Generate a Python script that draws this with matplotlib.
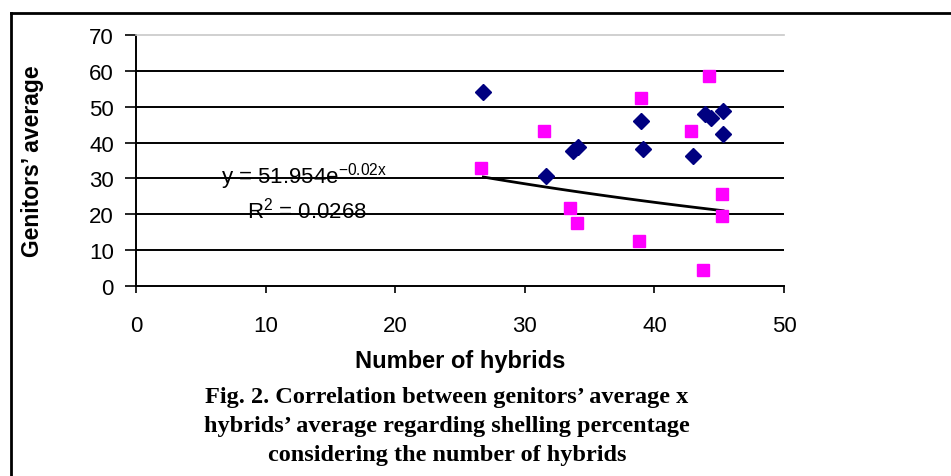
import numpy as np
import matplotlib
matplotlib.use("Agg")
import matplotlib.pyplot as plt
from matplotlib.lines import Line2D

plt.rcParams["mathtext.default"] = "regular"
plt.rcParams["mathtext.fontset"] = "custom"
plt.rcParams["mathtext.rm"] = "Liberation Sans"

# genitors' average (navy diamonds)
gen_x = [26.8, 31.6, 33.7, 34.1, 39.0, 39.1, 42.95, 43.9, 44.4, 45.3, 45.3]
gen_y = [54.0, 30.8, 37.6, 38.7, 45.9, 38.3, 36.3, 48.0, 46.8, 48.9, 42.3]

# hybrids' average (magenta squares)
hyb_x = [26.6, 31.5, 33.5, 34.0, 39.0, 38.8, 42.8, 44.2, 43.75, 45.2, 45.2]
hyb_y = [32.8, 43.3, 21.7, 17.7, 52.4, 12.6, 43.3, 58.5, 4.5, 25.7, 19.6]

# exponential trend line y = a * exp(b x)
trend_a = 51.954
trend_b = -0.02
trend_r2 = 0.0268
trend_range = (26.8, 45.3)

x_ticks = [0, 10, 20, 30, 40, 50]
y_ticks = [0, 10, 20, 30, 40, 50, 60, 70]

fig = plt.figure(figsize=(9.51, 4.77), dpi=100)
ax = fig.add_axes([0.143, 0.3983, 0.6814, 0.5262])

ax.set_xlim(0, 50)
ax.set_ylim(0, 70)
ax.set_xticks(x_ticks)
ax.set_yticks(y_ticks)

for yv in y_ticks[1:-1]:
    ax.axhline(yv, color="black", lw=1.4, zorder=1)

ax.plot(gen_x, gen_y, "D", color="#000080", markersize=8.5, ls="none", zorder=3)
ax.plot(hyb_x, hyb_y, "s", color="#FF00FF", markersize=9, ls="none", zorder=3)

tx = np.linspace(trend_range[0], trend_range[1], 50)
ax.plot(tx, trend_a * np.exp(trend_b * tx), color="black", lw=2, zorder=2)

ax.text(13.0, 29.0, "y = %.3fe$^{%.2fx}$" % (trend_a, trend_b), fontsize=16,
        family="Liberation Sans", ha="center", va="baseline", zorder=4)
ax.text(13.2, 19.0, "R$^{2}$ = %.4f" % trend_r2, fontsize=16,
        family="Liberation Sans", ha="center", va="baseline", zorder=4)

ax.spines["right"].set_visible(False)
ax.spines["top"].set_color("#c8c8c8")
ax.spines["top"].set_linewidth(1.2)
ax.spines["left"].set_linewidth(1.4)
ax.spines["bottom"].set_linewidth(1.4)

ax.tick_params(axis="y", direction="out", length=8, width=1.2, labelsize=16, pad=8)
ax.tick_params(axis="x", direction="out", length=5, width=1.2, labelsize=16, pad=16)
for lab in ax.get_xticklabels() + ax.get_yticklabels():
    lab.set_family("Liberation Sans")

ax.set_xlabel("Number of hybrids", fontsize=17, fontweight="bold",
              family="Liberation Sans", labelpad=9)
ax.set_ylabel("Genitors\u2019 average", fontsize=16.5, fontweight="bold",
              family="Liberation Sans")
ax.yaxis.set_label_coords(-0.142, 0.5)

fig.text(0.47, 0.106, "Fig. 2. Correlation between genitors\u2019 average x\n"
         "hybrids\u2019 average regarding shelling percentage\n"
         "considering the number of hybrids",
         ha="center", va="center", fontsize=17.5, fontweight="bold",
         family="Liberation Serif", linespacing=1.5)

# outer frame (top and left edges)
fig.add_artist(Line2D([10.5 / 951, 1], [1 - 14 / 477, 1 - 14 / 477],
                      transform=fig.transFigure, color="black", lw=2))
fig.add_artist(Line2D([10.5 / 951, 10.5 / 951], [0, 1 - 14 / 477],
                      transform=fig.transFigure, color="black", lw=2))

fig.savefig("out.png", dpi=100)
